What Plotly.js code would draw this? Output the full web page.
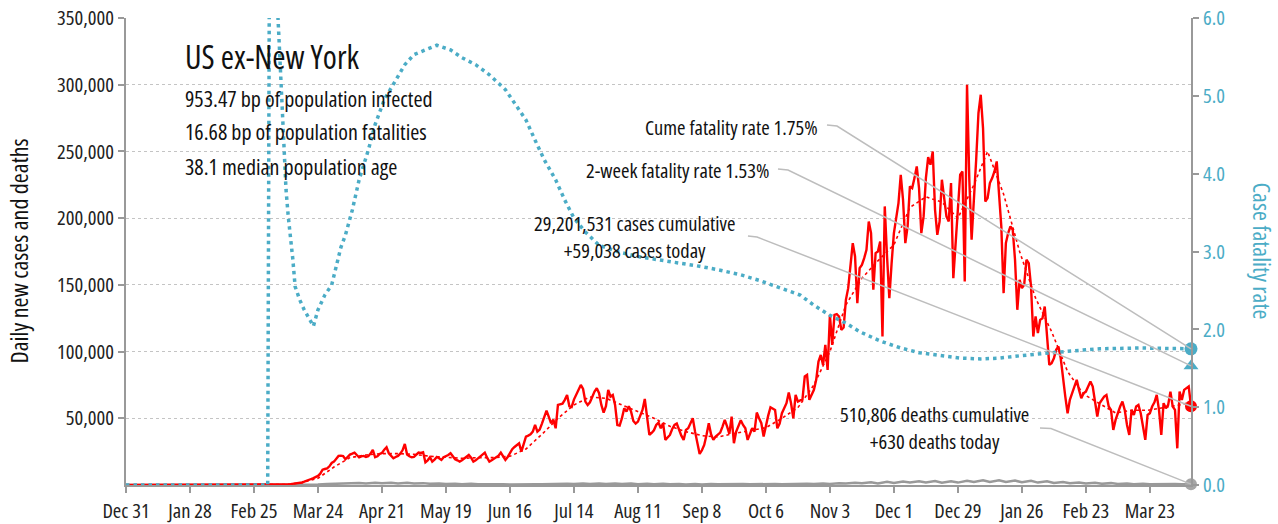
<!DOCTYPE html>
<html>
<head>
<meta charset="utf-8">
<script src="https://cdn.plot.ly/plotly-3.0.1.min.js"></script>
<style>
  html, body { margin: 0; padding: 0; background: #fff; }
  #chart { width: 1278px; height: 524px; }
  /* condensed face of Open Sans for every svg text, incl. plotly's measuring node */
  svg text { font-stretch: condensed; }
</style>
</head>
<body>
<div id="chart"></div>
<script>
    // day 0 = Dec 31 2019, one value per day
    var startDate = '2019-12-31';

    // daily new cases, US ex-New York (rows are weeks starting Dec 31)
    var dailyCases = [
        0,0,0,0,0,0,0,
        0,0,0,0,0,0,0,
        0,0,0,0,0,0,0,
        0,0,0,0,0,0,0,
        0,0,0,0,0,0,0,
        0,0,0,0,0,0,0,
        0,0,0,0,0,0,0,
        0,0,0,0,0,0,0,
        0,0,0,0,0,10,20,
        30,50,70,100,150,200,250,
        400,500,700,900,1100,1300,1500,
        1900,2500,3000,3800,4500,5200,6000,
        6800,8500,11500,12000,12500,14000,16500,
        17500,20000,21800,22000,21700,19300,21000,
        22800,23500,24300,22500,20800,21500,21800,
        21000,21500,23500,26300,20800,21500,23300,
        24000,26500,28300,23800,22000,20000,21000,
        21800,23500,26000,30800,22800,21500,20800,
        21000,22500,24300,24000,24500,17000,18500,
        20800,17500,19000,21000,20000,18800,20800,
        21500,22500,23800,21500,19300,18500,17500,
        18500,20000,21500,22500,20500,17500,18500,
        20000,21500,22500,24300,20500,17500,18500,
        19500,20800,22000,24300,21500,18800,21000,
        24000,26800,28500,30000,31300,25000,30500,
        36300,37000,38000,40000,45000,40000,41500,
        46000,50500,55800,51000,46300,49000,42500,
        60000,60500,61000,63800,67500,59000,58500,
        64000,67500,72000,75000,72000,62500,60000,
        62000,66000,70000,72500,68800,60000,54300,
        59000,71300,66300,67500,60000,45000,44500,
        50000,57500,55000,59000,55000,48000,46000,
        47500,52500,56300,64500,51300,37500,39000,
        41000,45000,46800,42500,46300,33800,36000,
        37500,42000,45000,46000,41300,37000,33800,
        41300,42500,46000,50000,40000,32000,23300,
        26000,30000,37500,46300,38000,33800,36300,
        38000,39300,43800,48800,44000,38300,51300,
        31300,40000,44500,48500,45000,42500,33800,
        38000,42500,40000,54300,50000,46300,36300,
        45000,52000,58300,57000,56300,42500,46000,
        53800,58000,61300,69300,61300,50000,67500,
        62500,63500,64300,81300,82500,63800,67500,
        71300,78800,92500,97500,90000,105000,86300,
        127500,105000,127500,128000,126300,116300,118000,
        138800,147500,165000,181300,171300,136300,162500,
        165000,170000,176300,197500,188800,146300,173800,
        175000,182500,111300,208800,171300,140000,166300,
        188800,200000,211300,232500,213800,181300,193800,
        223800,222500,230000,238800,222500,188800,201300,
        230000,245800,240000,250000,206300,187500,197500,
        228800,215000,201300,197500,226300,155000,181300,
        210000,232500,235000,152500,300000,228800,183800,
        210000,243800,278800,292500,267500,212500,215000,
        226300,230000,235000,242500,220000,193800,143800,
        181300,188800,193800,191300,168800,131300,153800,
        147500,150000,168800,166300,148800,111300,126300,
        113800,123800,125000,133800,111300,90000,91300,
        95000,101300,103800,95000,78800,66300,53800,
        63800,68800,73800,78800,71300,65000,68800,
        70000,73800,77500,73800,63800,51300,61300,
        64000,66300,67500,58800,56300,41300,48800,
        54000,58800,62500,56300,45000,37500,56300,
        52500,58800,60000,53800,45000,33800,52500,
        53800,58800,62000,67500,56300,37500,61300,
        57500,60000,70000,58800,56300,27500,70000,
        63800,71300,72500,73800,59038
    ];

    // 7-day average of cases, read weekly
    var avgDays = [0,70,77,84,91,98,105,112,119,126,
        133,140,147,154,161,168,175,182,189,196,
        203,210,217,224,231,238,245,252,259,266,
        273,280,287,294,301,308,315,322,329,336,
        343,350,357,364,371,377,384,391,398,405,
        412,419,426,433,440,447,454,461,466];
    var avgCases = [0,300,1800,5000,13500,20500,22500,23500,23500,23000,
        21500,20500,20000,20500,20500,21500,27000,38000,50000,60000,
        66000,65000,60000,55000,50000,44000,40000,37000,36000,38500,
        41000,43000,50000,58000,75000,100000,135000,155000,168000,180000,
        208000,216000,212000,200000,225000,250000,218000,175000,140000,115000,
        85000,68000,61000,54000,56000,56000,58000,60000,62000];

    // daily deaths (near the floor at this scale)
    var deathDays = [0,70,77,84,88,91,95,98,102,105,
        109,112,116,119,123,126,130,133,137,140,
        144,147,151,154,158,161,165,168,172,175,
        179,182,186,189,193,196,200,203,207,210,
        214,217,221,224,228,231,235,238,242,245,
        249,252,256,259,263,266,270,273,277,280,
        284,287,291,294,298,301,305,308,312,315,
        319,322,326,329,333,336,340,343,347,350,
        354,357,361,364,368,371,375,378,382,385,
        389,392,396,399,403,406,410,413,417,420,
        424,427,431,434,438,441,445,448,452,455,
        459,462,466];
    var deaths = [0,0,50,300,700,900,1300,1100,1500,1200,
        1600,1300,1700,1200,1600,1100,1400,900,1200,700,
        1000,600,900,500,700,400,600,400,600,400,
        600,500,800,600,1000,700,1200,800,1200,700,
        1100,700,1100,600,1000,500,900,500,800,400,
        800,400,800,500,800,500,800,500,800,500,
        800,600,900,600,1000,700,1100,800,1300,1100,
        1700,1300,2000,1200,2500,1600,2700,1800,2800,1800,
        3000,1700,2800,1800,3200,2200,3500,2300,3500,2200,
        3300,2000,3200,1800,2800,1500,2300,1300,1900,1100,
        1700,900,1400,800,1100,600,900,500,800,500,
        800,500,630];

    // cumulative case fatality rate, %
    var cfrDays = [0,62,63,64,65,66,67,68,69,70,
        71,72,73,74,76,78,80,82,84,87,
        90,94,96,99,102,106,109,113,118,122,
        126,131,136,142,147,153,159,166,170,175,
        179,183,188,192,196,201,207,216,225,234,
        242,251,260,269,277,286,295,301,308,315,
        321,330,339,347,356,365,374,382,391,400,
        409,417,426,444,466];
    var cfrPct = [0,0,9,10,8,6.3,5.7,5.0,4.4,3.8,
        3.45,3.2,2.9,2.55,2.38,2.25,2.15,2.04,2.25,2.44,
        2.57,3.05,3.21,3.53,3.92,4.30,4.63,4.95,5.20,5.40,
        5.53,5.59,5.65,5.59,5.49,5.40,5.27,5.08,4.91,4.69,
        4.43,4.18,3.92,3.66,3.43,3.25,3.08,2.99,2.93,2.89,
        2.85,2.81,2.76,2.70,2.63,2.54,2.44,2.31,2.18,2.08,
        1.97,1.85,1.76,1.70,1.66,1.63,1.62,1.63,1.66,1.68,
        1.71,1.73,1.75,1.76,1.75];

    var twoWeekRate = 1.53;
    var casesCumulative = '29,201,531';
    var deathsCumulative = '510,806';
    var deathsToday = 630;
    var statLines = ['953.47 bp of population infected',
                     '16.68 bp of population fatalities',
                     '38.1 median population age'];
    var leftTicks = [50000, 100000, 150000, 200000, 250000, 300000, 350000];
    var rightTicks = [0, 1, 2, 3, 4, 5, 6];
    var xTickLabels = ['Dec 31','Jan 28','Feb 25','Mar 24','Apr 21','May 19','Jun 16',
        'Jul 14','Aug 11','Sep 8','Oct 6','Nov 3','Dec 1','Dec 29','Jan 26','Feb 23','Mar 23'];

    var TEAL = '#4bacc6';
    var FONT = '"Open Sans", "Roboto Condensed", sans-serif';
    var T0 = Date.UTC(2019, 11, 31);

    function dayToDate(d) {
        return new Date(T0 + d * 86400000).toISOString().slice(0, 10);
    }

    var lastDay = dailyCases.length - 1;
    var caseDates = dailyCases.map(function(v, i) { return dayToDate(i); });
    var lastDate = dayToDate(lastDay);
    var casesToday = dailyCases[lastDay];
    var cumeRate = cfrPct[cfrPct.length - 1];
    var yMax = 350000, y2Max = 6;

    var traces = [
        {
            x: deathDays.map(dayToDate), y: deaths, type: 'scatter', mode: 'lines',
            line: { color: '#999999', width: 2.5 }, hoverinfo: 'skip'
        },
        {
            x: cfrDays.map(dayToDate), y: cfrPct, yaxis: 'y2', type: 'scatter', mode: 'lines',
            line: { color: TEAL, width: 3.5, dash: '3.5px,4px' }, hoverinfo: 'skip'
        },
        {
            x: caseDates, y: dailyCases, type: 'scatter', mode: 'lines',
            line: { color: '#ff0000', width: 2.4 }, hoverinfo: 'skip'
        },
        {
            x: avgDays.map(dayToDate), y: avgCases, type: 'scatter', mode: 'lines',
            line: { color: '#ff0000', width: 1.6, dash: 'dot' }, hoverinfo: 'skip'
        },
        // end-of-series markers
        {
            x: [lastDate], y: [cumeRate], yaxis: 'y2', mode: 'markers', cliponaxis: false,
            marker: { color: TEAL, size: 13, symbol: 'circle' }
        },
        {
            x: [lastDate], y: [twoWeekRate], yaxis: 'y2', mode: 'markers', cliponaxis: false,
            marker: { color: TEAL, size: 13, symbol: 'triangle-up' }
        },
        {
            x: [lastDate], y: [casesToday], mode: 'markers', cliponaxis: false,
            marker: { color: '#ff0000', size: 12 }
        },
        {
            x: [lastDate], y: [deathsToday], mode: 'markers', cliponaxis: false,
            marker: { color: '#a6a6a6', size: 12 }
        }
    ];

    // paper coordinates of the end points, for leader lines
    function px(d) { return d / lastDay; }
    function leader(x1, y1, x2, y2, yEnd) {
        return {
            type: 'path', xref: 'paper', yref: 'paper',
            path: 'M' + x1 + ',' + y1 + ' L' + x2 + ',' + y2 + ' L' + px(lastDay) + ',' + yEnd,
            line: { color: '#bdbdbd', width: 1.5 }
        };
    }

    var shapes = [
        leader(0.6582, 0.7709, 0.6676, 0.7687, cumeRate / y2Max),
        leader(0.6122, 0.6767, 0.6216, 0.6745, twoWeekRate / y2Max),
        leader(0.5840, 0.5332, 0.5925, 0.5310, casesToday / yMax),
        leader(0.8582, 0.1221, 0.8685, 0.1210, deathsToday / yMax)
    ];

    function note(text, x, y, size, anchor, color) {
        return {
            text: text, xref: 'paper', yref: 'paper', x: x, y: y,
            xanchor: anchor, yanchor: 'middle', showarrow: false,
            font: { family: FONT, size: size, color: color || '#111' }
        };
    }

    var annotations = [
        note('US ex-New York', 0.0535, 0.9165, 32, 'left'),
        note(statLines[0], 0.0535, 0.8287, 22, 'left'),
        note(statLines[1], 0.0535, 0.7580, 22, 'left'),
        note(statLines[2], 0.0535, 0.6831, 22, 'left'),
        note('Cume fatality rate ' + cumeRate.toFixed(2) + '%', 0.6516, 0.7666, 20.5, 'right'),
        note('2-week fatality rate ' + twoWeekRate.toFixed(2) + '%', 0.6056, 0.6745, 20.5, 'right'),
        note(casesCumulative + ' cases cumulative<br>+' + casesToday.toLocaleString('en-US') +
             ' cases today', 0.4770, 0.5321, 20.5, 'center'),
        note(deathsCumulative + ' deaths cumulative<br>+' + deathsToday + ' deaths today',
             0.7587, 0.1221, 20.5, 'center'),
        {
            text: 'Daily new cases and deaths', xref: 'paper', yref: 'paper',
            x: -0.1014, y: 0.5, xanchor: 'center', yanchor: 'middle', textangle: -90,
            showarrow: false, font: { family: FONT, size: 24, color: '#111' }
        },
        {
            text: 'Case fatality rate', xref: 'paper', yref: 'paper',
            x: 1.0676, y: 0.5, xanchor: 'center', yanchor: 'middle', textangle: 90,
            showarrow: false, font: { family: FONT, size: 24, color: TEAL }
        }
    ];

    var layout = {
        width: 1278,
        height: 524,
        margin: { t: 18, r: 87, b: 39, l: 126 },
        showlegend: false,
        paper_bgcolor: '#ffffff',
        plot_bgcolor: '#ffffff',
        font: { family: FONT, size: 20, color: '#222' },
        xaxis: {
            type: 'date',
            range: [startDate, lastDate],
            tickvals: xTickLabels.map(function(t, i) { return dayToDate(28 * i); }),
            ticktext: xTickLabels,
            tickangle: 0,
            ticks: 'outside', ticklen: 6, tickwidth: 1.5, tickcolor: '#999',
            showline: true, linecolor: '#999', linewidth: 2,
            showgrid: false, zeroline: false,
            tickfont: { family: FONT, size: 20.5, color: '#222' }
        },
        yaxis: {
            range: [0, yMax],
            tickvals: leftTicks,
            tickformat: ',d',
            ticks: 'outside', ticklen: 6, tickwidth: 1.5, tickcolor: '#999',
            showline: true, linecolor: '#999', linewidth: 2,
            showgrid: true, gridcolor: '#c4c4c4', gridwidth: 1, griddash: 'dot',
            zeroline: false,
            tickfont: { family: FONT, size: 20.5, color: '#222' }
        },
        yaxis2: {
            overlaying: 'y', side: 'right',
            range: [0, y2Max],
            tickvals: rightTicks,
            tickformat: '.1f', ticksuffix: '%',
            ticks: 'outside', ticklen: 6, tickwidth: 1.5, tickcolor: '#999',
            showline: true, linecolor: '#999', linewidth: 2,
            showgrid: false, zeroline: false,
            tickfont: { family: FONT, size: 20.5, color: TEAL }
        },
        shapes: shapes,
        annotations: annotations
    };

    Plotly.newPlot('chart', traces, layout, { displayModeBar: false, responsive: false });
</script>
</body>
</html>
